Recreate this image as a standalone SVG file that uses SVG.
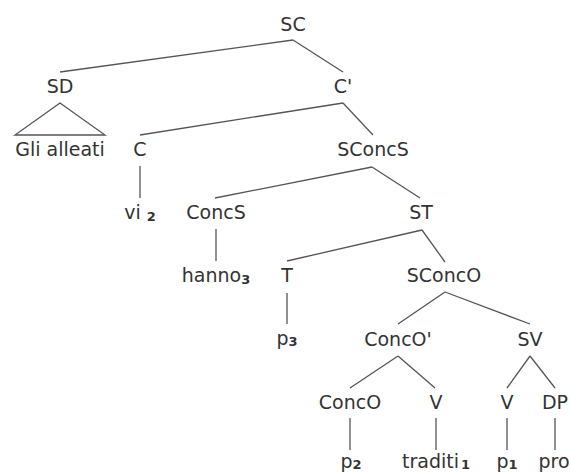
<svg xmlns="http://www.w3.org/2000/svg" width="570" height="474" viewBox="0 0 570 474">
<style>
text{font-family:"DejaVu Sans",Verdana,sans-serif;font-size:19px;fill:#333;text-anchor:middle}
.s{font-size:13px;font-weight:bold}
.e line,.e polygon{stroke:#555;stroke-width:1.3;fill:none}
</style>
<rect width="570" height="474" fill="#fff"/>
<g class="e" id="connectors">
<line x1="293" y1="40" x2="60" y2="72"/>
<line x1="293" y1="40" x2="343" y2="72"/>
<polygon points="60,103 15,135 105,135"/>
<line x1="343" y1="103" x2="140" y2="135"/>
<line x1="343" y1="103" x2="373" y2="135"/>
<line x1="140" y1="166" x2="140" y2="198"/>
<line x1="372" y1="167" x2="215" y2="198"/>
<line x1="372" y1="167" x2="420" y2="198"/>
<line x1="216" y1="229" x2="216" y2="261"/>
<line x1="422" y1="230" x2="287" y2="261"/>
<line x1="422" y1="230" x2="445" y2="262"/>
<line x1="287" y1="293" x2="287" y2="324"/>
<line x1="445" y1="292" x2="398" y2="324"/>
<line x1="445" y1="292" x2="530" y2="324"/>
<line x1="398" y1="356" x2="350" y2="388"/>
<line x1="398" y1="356" x2="435" y2="388"/>
<line x1="530" y1="356" x2="507" y2="388"/>
<line x1="530" y1="356" x2="555" y2="388"/>
<line x1="350" y1="418" x2="350" y2="450"/>
<line x1="436" y1="418" x2="436" y2="450"/>
<line x1="507" y1="418" x2="507" y2="450"/>
<line x1="555" y1="418" x2="555" y2="450"/>
</g>
<g id="n-SC"><text x="293" y="31">SC</text></g>
<g id="n-SD"><text x="60" y="93">SD</text></g>
<g id="n-C1"><text x="343" y="93">C'</text></g>
<g id="n-gli"><text x="60" y="156">Gli alleati</text></g>
<g id="n-C"><text x="140" y="156">C</text></g>
<g id="n-SConcS"><text x="373" y="156">SConcS</text></g>
<g id="n-vi"><text x="140" y="219">vi <tspan class="s" dy="2">2</tspan></text></g>
<g id="n-ConcS"><text x="216" y="219">ConcS</text></g>
<g id="n-ST"><text x="421" y="219">ST</text></g>
<g id="n-hanno"><text x="216" y="282">hanno<tspan class="s" dy="2">3</tspan></text></g>
<g id="n-T"><text x="287" y="282">T</text></g>
<g id="n-SConcO"><text x="444" y="282">SConcO</text></g>
<g id="n-p3"><text x="287" y="345">p<tspan class="s" dy="1">3</tspan></text></g>
<g id="n-ConcO1"><text x="398" y="346">ConcO'</text></g>
<g id="n-SV"><text x="530" y="346">SV</text></g>
<g id="n-ConcO"><text x="350" y="409">ConcO</text></g>
<g id="n-V1"><text x="436" y="409">V</text></g>
<g id="n-V2"><text x="507" y="409">V</text></g>
<g id="n-DP"><text x="555" y="409">DP</text></g>
<g id="n-p2"><text x="351" y="468">p<tspan class="s" dy="1">2</tspan></text></g>
<g id="n-traditi"><text x="436" y="468">traditi<tspan class="s" dx="2" dy="1">1</tspan></text></g>
<g id="n-p1"><text x="507" y="468">p<tspan class="s" dy="1">1</tspan></text></g>
<g id="n-pro"><text x="554" y="468">pro</text></g>
</svg>
